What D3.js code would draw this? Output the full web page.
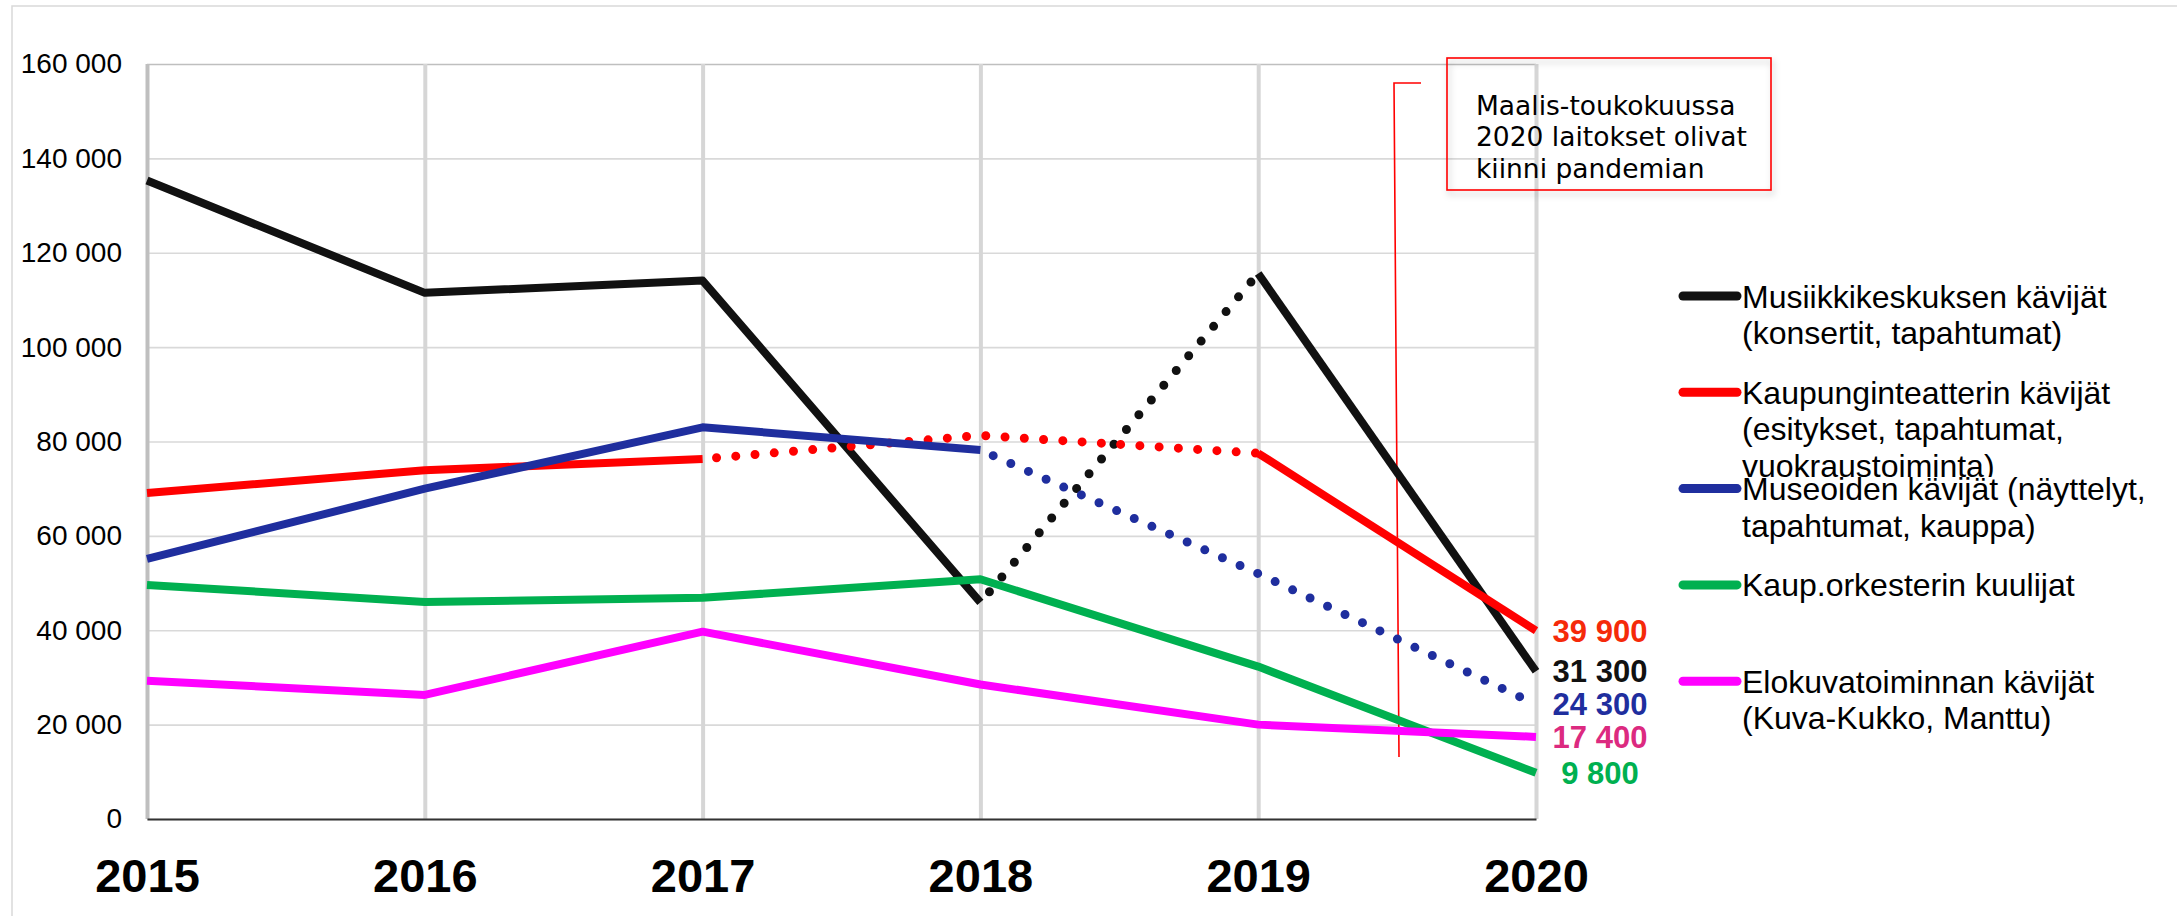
<!DOCTYPE html>
<html lang="fi">
<head>
<meta charset="UTF-8">
<title>Kävijät 2015–2020</title>
<style>
  body { margin: 0; background: #fff; }
  svg { display: block; }
  text { font-family: 'Liberation Sans', Arial, sans-serif; fill: #000; }
  .note text { font-family: 'DejaVu Sans', Verdana, sans-serif; }
</style>
</head>
<body>
<script src="https://cdn.jsdelivr.net/npm/d3@7"></script>
<svg id="chart" width="2177" height="916"></svg>
<script>
const years = ['2015', '2016', '2017', '2018', '2019', '2020'];
const yTicks = [0, 20000, 40000, 60000, 80000, 100000, 120000, 140000, 160000];

const musiikki  = [135300, 111500, 114100, 45900, 115600, 31300];
const teatteri  = [69100, 73900, 76300, 81300, 77500, 39900];
const museot    = [55100, 70000, 83000, 78200, 52000, 24300];
const orkesteri = [49600, 46000, 46900, 50800, 32300, 9800];
const elokuva   = [29300, 26300, 39700, 28500, 20000, 17400];

// segment i runs from years[i] to years[i+1]; these are drawn dotted
const musiikkiDotted = [3];
const teatteriDotted = [2, 3];
const museotDotted = [3, 4];
const orkesteriDotted = [];
const elokuvaDotted = [];

const legendLabels = [
  ['Musiikkikeskuksen kävijät', '(konsertit, tapahtumat)'],
  ['Kaupunginteatterin kävijät', '(esitykset, tapahtumat,', 'vuokraustoiminta)'],
  ['Museoiden kävijät (näyttelyt,', 'tapahtumat, kauppa)'],
  ['Kaup.orkesterin kuulijat'],
  ['Elokuvatoiminnan kävijät', '(Kuva-Kukko, Manttu)']
];
const lineColors = ['#111111', '#ff0000', '#1f2e9e', '#00b050', '#ff00ff'];
const labelColors = ['#111111', '#f52a0a', '#1f2e9e', '#00b050', '#dc2a80'];
const noteLines = ['Maalis-toukokuussa', '2020 laitokset olivat', 'kiinni pandemian'];

const series = [
  { values: musiikki, dotted: musiikkiDotted },
  { values: teatteri, dotted: teatteriDotted },
  { values: museot, dotted: museotDotted },
  { values: orkesteri, dotted: orkesteriDotted },
  { values: elokuva, dotted: elokuvaDotted }
];

const fi = d3.formatLocale({ decimal: ',', thousands: '\u00a0', grouping: [3], currency: ['', ' €'] });
const fmt = fi.format(',');

const plotLeft = 147, plotRight = 1536, plotTop = 64, plotBottom = 819;
const svg = d3.select('#chart');

// outer chart frame
svg.append('rect')
  .attr('x', 12).attr('y', 6).attr('width', 2200).attr('height', 950)
  .attr('fill', 'none').attr('stroke', '#d9d9d9').attr('stroke-width', 1.5);

const x = d3.scalePoint().domain(years).range([plotLeft, plotRight]);
const y = d3.scaleLinear().domain([0, 160000]).range([plotBottom, plotTop]);

// horizontal gridlines
const hGrid = svg.append('g')
  .attr('transform', `translate(${plotLeft},0)`)
  .call(d3.axisLeft(y).tickValues(yTicks).tickSize(-(plotRight - plotLeft)).tickFormat(''));
hGrid.select('.domain').remove();
hGrid.selectAll('line').attr('stroke', d => d === 160000 ? '#bfbfbf' : '#d9d9d9').attr('stroke-width', 1.6);

// vertical gridlines
const vGrid = svg.append('g')
  .attr('transform', `translate(0,${plotBottom})`)
  .call(d3.axisBottom(x).tickSize(-(plotBottom - plotTop)).tickFormat(''));
vGrid.select('.domain').remove();
vGrid.selectAll('line').attr('stroke', (d, i) => i === 0 ? '#bfbfbf' : '#d6d6d6').attr('stroke-width', 4);

// y labels
const yAxis = svg.append('g')
  .attr('transform', `translate(${plotLeft},0)`)
  .call(d3.axisLeft(y).tickValues(yTicks).tickSize(0).tickPadding(25).tickFormat(fmt));
yAxis.select('.domain').remove();
yAxis.selectAll('text').attr('font-size', 28).attr('font-family', null).attr('fill', '#000');

// x axis
const xAxis = svg.append('g')
  .attr('transform', `translate(0,${plotBottom})`)
  .call(d3.axisBottom(x).tickSize(0));
xAxis.select('.domain').attr('stroke', '#333').attr('stroke-width', 1.8);
xAxis.selectAll('text')
  .attr('y', 56).attr('dy', '0.36em')
  .attr('font-size', 47).attr('font-weight', 'bold').attr('font-family', null).attr('fill', '#000');

// annotation marker (under the data lines)
svg.append('path')
  .attr('d', 'M1421,83 H1394 L1399,757')
  .attr('fill', 'none').attr('stroke', '#ff0000').attr('stroke-width', 1.6);

// series lines
const line = d3.line().x(d => x(d.year)).y(d => y(d.value));
series.forEach((s, si) => {
  const pts = s.values.map((v, i) => ({ year: years[i], value: v }));
  // group consecutive segments with the same style
  const runs = [];
  for (let i = 0; i < pts.length - 1; i++) {
    const dot = s.dotted.includes(i);
    const last = runs[runs.length - 1];
    if (last && last.dot === dot) last.pts.push(pts[i + 1]);
    else runs.push({ dot, pts: [pts[i], pts[i + 1]] });
  }
  runs.forEach(r => {
    svg.append('path')
      .attr('d', line(r.pts))
      .attr('fill', 'none')
      .attr('stroke', lineColors[si])
      .attr('stroke-width', r.dot ? 9 : 8)
      .attr('stroke-linejoin', 'round')
      .attr('stroke-linecap', r.dot ? 'round' : 'butt')
      .attr('stroke-dasharray', r.dot ? '0 19.3' : null)
      .attr('stroke-dashoffset', r.dot ? -14 : null);
  });
});

// value labels at 2020
series.forEach((s, si) => {
  const v = s.values[s.values.length - 1];
  svg.append('text')
    .attr('x', 1600).attr('y', y(v))
    .attr('dy', '0.36em')
    .attr('text-anchor', 'middle')
    .attr('font-size', 31).attr('font-weight', 'bold')
    .style('fill', labelColors[si])
    .text(fmt(v));
});

// annotation box
const defs = svg.append('defs');
const f = defs.append('filter').attr('id', 'shadow').attr('x', '-10%').attr('y', '-10%').attr('width', '130%').attr('height', '140%');
f.append('feDropShadow').attr('dx', 2).attr('dy', 4).attr('stdDeviation', 3).attr('flood-color', '#000').attr('flood-opacity', 0.25);

const note = svg.append('g').attr('class', 'note');
note.append('rect')
  .attr('x', 1447).attr('y', 58).attr('width', 324).attr('height', 132)
  .attr('fill', 'none').attr('stroke', '#ff0000').attr('stroke-width', 1.6)
  .attr('filter', 'url(#shadow)');
note.selectAll('text').data(noteLines).join('text')
  .attr('x', 1476).attr('y', (d, i) => 105 + i * 31.5)
  .attr('dy', '0.36em')
  .attr('font-size', 26.5)
  .text(d => d);

// legend
defs.append('clipPath').attr('id', 'legclip')
  .append('rect').attr('x', 1600).attr('y', 0).attr('width', 600).attr('height', 477);

const legend = svg.append('g');
legendLabels.forEach((lines, i) => {
  const ly = 296 + i * 96.3;
  const g = legend.append('g');
  if (i === 1) g.attr('clip-path', 'url(#legclip)');
  g.append('line')
    .attr('x1', 1683).attr('x2', 1737).attr('y1', ly).attr('y2', ly)
    .attr('stroke', lineColors[i]).attr('stroke-width', 9).attr('stroke-linecap', 'round');
  g.selectAll('text').data(lines).join('text')
    .attr('x', 1742).attr('y', (d, k) => ly + k * 36.5)
    .attr('dy', '0.36em')
    .attr('font-size', 32)
    .text(d => d);
});
</script>
</body>
</html>
